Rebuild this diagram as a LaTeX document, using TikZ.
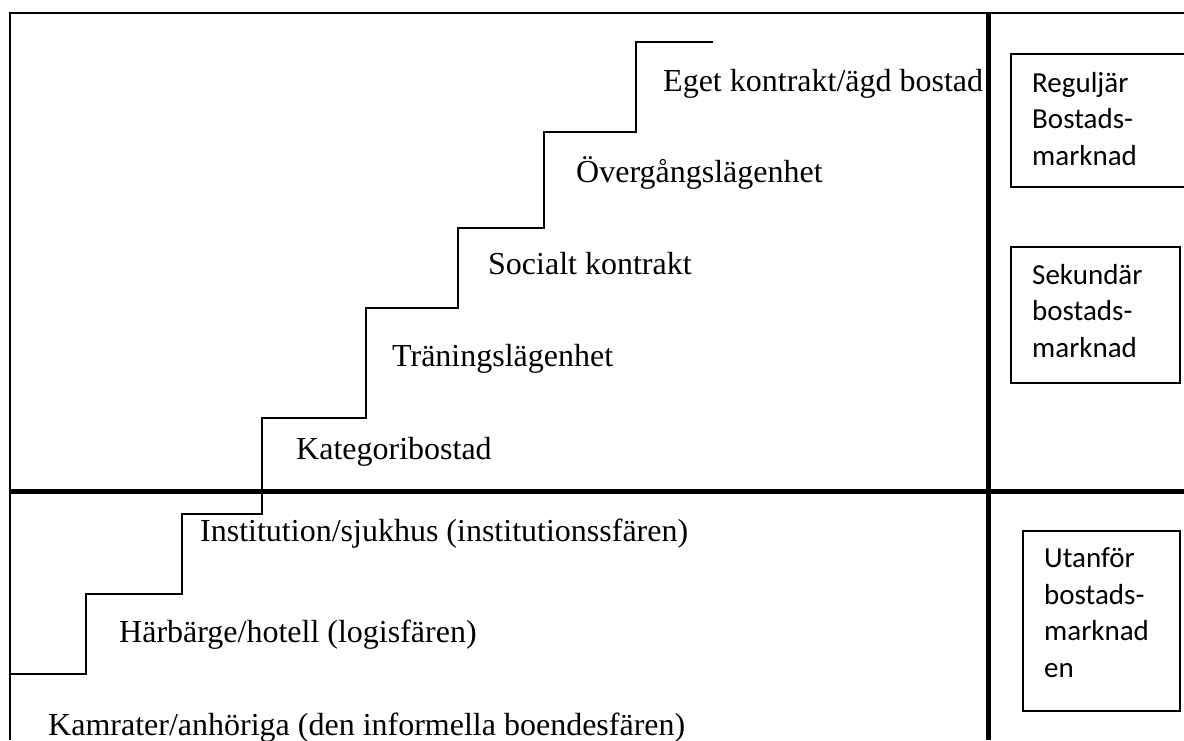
\documentclass[tikz,border=0pt]{standalone}
\usepackage{fontspec}
\setmainfont{Liberation Serif}
\newfontfamily\calfont{Carlito}
\begin{document}
\begin{tikzpicture}[x=1pt,y=-1pt,
  thinline/.style={line width=2pt},
  thickline/.style={line width=5pt},
  stairlabel/.style={anchor=base west,inner sep=0pt,font=\fontsize{32}{38}\selectfont},
  markbox/.style={draw,line width=1.6pt,anchor=north west,inner sep=0pt},
  marklabel/.style={anchor=base west,inner sep=0pt,align=left,font=\calfont\fontsize{29}{36.5}\selectfont}]
\useasboundingbox (0,0) rectangle (1184,740);
% frame
\coordinate (tl) at (10,13);
\coordinate (tr) at (1184,13);
\coordinate (bl) at (10,740);
\draw[line width=2.5pt] (bl) -- (tl) -- (tr);
% thick dividers
\coordinate (vt) at (988,13);
\coordinate (vb) at (988,740);
\coordinate (hl) at (10,491);
\coordinate (hr) at (1184,491);
\draw[thickline] (vt) -- (vb);
\draw[thickline] (hl) -- (hr);
% staircase
\coordinate (s0) at (10,674);
\coordinate (s1) at (713,42);
\draw[thinline] (s0) -- (86,674) -- (86,594) -- (182,594) -- (182,514) -- (262,514) -- (262,418)
  -- (366,418) -- (366,308) -- (458,308) -- (458,228) -- (544,228) -- (544,132) -- (636,132)
  -- (636,42) -- (s1);
% stair labels
\node[stairlabel] (t8) at (663,91) {Eget kontrakt/ägd bostad};
\node[stairlabel] (t7) at (576,182) {Övergångslägenhet};
\node[stairlabel] (t6) at (488,274) {Socialt kontrakt};
\node[stairlabel] (t5) at (392,366) {Träningslägenhet};
\node[stairlabel] (t4) at (296,459) {Kategoribostad};
\node[stairlabel] (t3) at (200,541) {Institution/sjukhus (institutionssfären)};
\node[stairlabel] (t2) at (119,642) {Härbärge/hotell (logisfären)};
\node[stairlabel] (t1) at (48,735) {Kamrater/anhöriga (den informella boendesfären)};
% right boxes
\node[markbox,minimum width=174pt,minimum height=133pt] (b1) at (1010,53) {};
\node[marklabel] (l1) at (1032,165) {Reguljär\\Bostads-\\marknad};
\node[markbox,minimum width=169pt,minimum height=136pt] (b2) at (1010,246) {};
\node[marklabel] (l2) at (1032,357) {Sekundär\\bostads-\\marknad};
\node[markbox,minimum width=157pt,minimum height=180pt] (b3) at (1022,530) {};
\node[marklabel] (l3) at (1044,677) {Utanför\\bostads-\\marknad\\en};
\end{tikzpicture}
\end{document}
